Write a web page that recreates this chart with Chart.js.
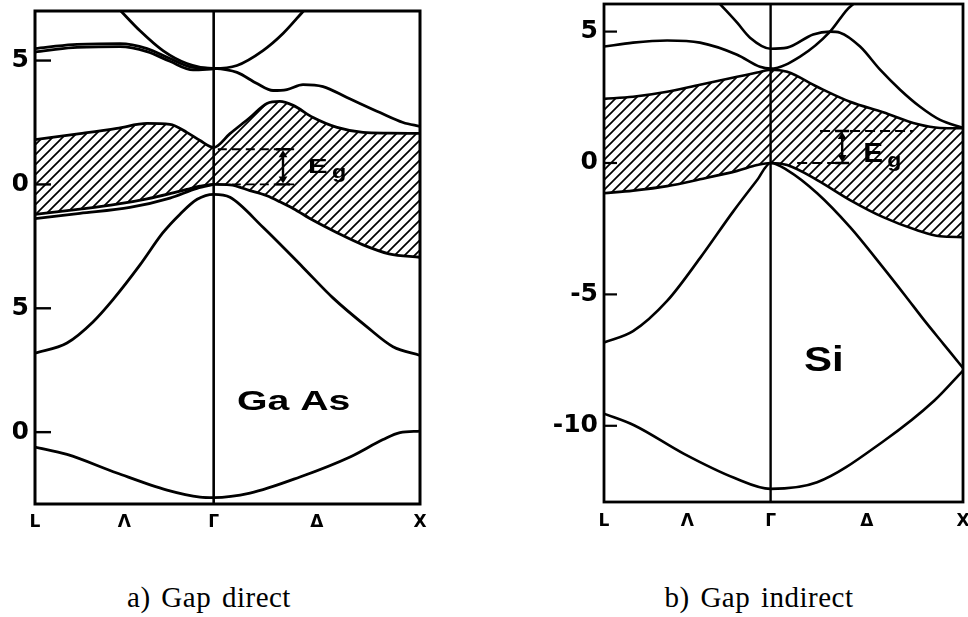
<!DOCTYPE html>
<html>
<head>
<meta charset="utf-8">
<script src="https://cdn.jsdelivr.net/npm/chart.js@4.4.1/dist/chart.umd.min.js"></script>
<style>
  html, body { margin: 0; padding: 0; background: #fff; width: 968px; height: 617px; overflow: hidden; }
  body { position: relative; }
  #wrapA { position: absolute; left: 13px; top: 0; width: 437px; height: 560px; overflow: hidden; }
  #cA { position: absolute; left: -33px; top: 0; }
  #cB { position: absolute; left: 484px; top: 0; }
  .cap { position: absolute; top: 580px; line-height: 34px; font-size: 29px; letter-spacing: 0.5px; word-spacing: 3px;
         font-family: "Liberation Serif", "Times New Roman", serif; color: #000; white-space: nowrap; transform: translateX(-50%); }
</style>
</head>
<body>
<div id="wrapA"><canvas id="cA" width="470" height="560"></canvas></div>
<canvas id="cB" width="484" height="560"></canvas>
<div class="cap" style="left:209px">a) Gap direct</div>
<div class="cap" style="left:759px">b) Gap indirect</div>
<script>
// Wave-vector path L – Γ – X (Γ at 0, L at -√3/2, X at 1)
const kTickPos = [-0.866, -0.433, 0, 0.5, 1];
const kTickNames = ['L', 'Λ', 'Γ', 'Δ', 'X'];
const energyTicks = [-10, -5, 0, 5];

// ---- GaAs bands (energy in eV) ----
const gaUpperK = [-0.45, -0.357, -0.246, -0.13, 0, 0.113, 0.239, 0.336, 0.435];
const gaUpperE = [7.0, 6.2, 5.4, 4.88, 4.68, 4.8, 5.4, 6.09, 7.0];

const gaSecondK = [-0.866, -0.682, -0.454, -0.323, -0.212, -0.1, 0, 0.113, 0.21, 0.288, 0.355, 0.433, 0.53, 0.646, 0.806, 0.918, 1.0];
const gaSecondE = [5.48, 5.64, 5.68, 5.48, 5.08, 4.72, 4.68, 4.52, 4.07, 3.79, 3.83, 4.03, 3.95, 3.51, 2.9, 2.5, 2.34];

const gaSecondBK = [-0.866, -0.682, -0.454, -0.323, -0.212, -0.1, 0];
const gaSecondBE = [5.34, 5.52, 5.56, 5.36, 4.97, 4.62, 4.66];

const gaGapK = [-0.866, -0.648, -0.469, -0.323, -0.212, -0.13, -0.066, 0, 0.079, 0.176, 0.258, 0.321, 0.385, 0.482, 0.598, 0.724, 0.85, 1.0];
const gaCondE = [1.81, 2.05, 2.26, 2.46, 2.42, 2.1, 1.77, 1.49, 2.05, 2.7, 3.27, 3.35, 3.19, 2.7, 2.3, 2.1, 2.07, 2.06];
const gaValE = [-1.21, -1.0, -0.8, -0.58, -0.37, -0.2, -0.07, 0, -0.02, -0.25, -0.46, -0.7, -0.97, -1.45, -1.95, -2.44, -2.8, -2.94];

const gaValBK = [-0.866, -0.648, -0.406, -0.212, -0.081, 0];
const gaValBE = [-1.38, -1.17, -0.93, -0.55, -0.16, 0];

const gaSplitK = [-0.866, -0.711, -0.585, -0.488, -0.357, -0.246, -0.163, -0.08, 0, 0.079, 0.239, 0.433, 0.578, 0.743, 0.869, 1.0];
const gaSplitE = [-6.81, -6.4, -5.55, -4.65, -3.25, -1.95, -1.2, -0.6, -0.4, -0.52, -1.73, -3.35, -4.58, -5.75, -6.55, -6.9];

const gaBottomK = [-0.866, -0.711, -0.469, -0.226, -0.066, 0, 0.176, 0.418, 0.661, 0.821, 0.903, 1.0];
const gaBottomE = [-10.6, -10.9, -11.65, -12.34, -12.62, -12.64, -12.46, -11.81, -11.0, -10.3, -10.02, -9.96];

// ---- Si bands (energy in eV) ----
const siUpperK = [-0.263, -0.174, -0.107, 0, 0.086, 0.221, 0.309, 0.361, 0.465, 0.569, 0.673, 0.777, 0.881, 1.0];
const siUpperE = [6.05, 5.34, 4.77, 4.35, 4.39, 4.89, 5.0, 4.96, 4.43, 3.55, 2.79, 2.14, 1.64, 1.34];

const siSecondK = [-0.866, -0.715, -0.538, -0.367, -0.174, -0.055, 0, 0.153, 0.309, 0.398, 0.43];
const siSecondE = [4.43, 4.58, 4.66, 4.58, 4.12, 3.66, 3.59, 4.05, 5.0, 5.84, 6.05];

const siGapK = [-0.866, -0.715, -0.538, -0.367, -0.174, -0.07, 0, 0.086, 0.242, 0.413, 0.585, 0.762, 0.881, 1.0];
const siCondE = [2.44, 2.52, 2.71, 2.98, 3.28, 3.44, 3.55, 3.47, 2.9, 2.33, 1.93, 1.48, 1.33, 1.32];
const siValE = [-1.15, -1.05, -0.88, -0.62, -0.3, -0.08, 0, -0.08, -0.65, -1.41, -2.06, -2.56, -2.79, -2.82];

const siVal2K = [-0.866, -0.715, -0.538, -0.367, -0.195, -0.07, 0, 0.086, 0.242, 0.413, 0.585, 0.7, 0.8, 0.9, 1.0];
const siVal2E = [-6.83, -6.4, -5.25, -3.62, -1.85, -0.65, 0, -0.27, -1.15, -2.44, -3.98, -5.05, -6.0, -6.9, -7.8];

const siBottomK = [-0.866, -0.71, -0.45, -0.19, 0, 0.242, 0.59, 0.85, 1.0];
const siBottomE = [-9.54, -9.98, -11.07, -11.98, -12.4, -12.15, -10.57, -9.05, -7.9];

// Gap markers (energies of the two edges, k-range of the dashed guides)
const gaEgEdges = [0, 1.42];
const gaEgGuideK = [0.02, 0.39];
const siEgEdges = [0, 1.22];
const siEgGuideTopK = [0.257, 0.741];
const siEgGuideBottomK = [0.138, 0.398];

// ---------------------------------------------------------------
function pts(k, e) { return k.map((v, i) => ({ x: v, y: e[i] })); }

function hatch(spacing, lw) {
  const c = document.createElement('canvas');
  c.width = spacing; c.height = spacing;
  const g = c.getContext('2d');
  g.strokeStyle = '#000';
  g.lineWidth = lw;
  g.beginPath();
  g.moveTo(-2, spacing + 2); g.lineTo(spacing + 2, -2);
  g.moveTo(-2, 2); g.lineTo(2, -2);
  g.moveTo(spacing - 2, spacing + 2); g.lineTo(spacing + 2, spacing - 2);
  g.stroke();
  return g.createPattern(c, 'repeat');
}

function line(k, e, lw, extra) {
  return Object.assign({
    data: pts(k, e),
    borderColor: '#000',
    borderWidth: lw,
    pointRadius: 0,
    fill: false,
    cubicInterpolationMode: 'monotone'
  }, extra || {});
}

function textAt(ctx, s, px, py, font, sx) {
  ctx.save();
  ctx.translate(px, py);
  ctx.scale(sx, 1);
  ctx.font = font;
  ctx.textAlign = 'left';
  ctx.textBaseline = 'alphabetic';
  ctx.fillText(s, 0, 0);
  ctx.restore();
}

// Frame, Γ line, inner energy ticks, gap marker and material name
const bandDecor = {
  id: 'bandDecor',
  afterDatasetsDraw(chart, args, o) {
    const { ctx, chartArea: a, scales: { x, y } } = chart;
    ctx.save();
    ctx.strokeStyle = '#000';
    ctx.fillStyle = '#000';

    const gx = x.getPixelForValue(0);
    ctx.lineWidth = o.gammaWidth;
    ctx.beginPath(); ctx.moveTo(gx, a.top); ctx.lineTo(gx, a.bottom); ctx.stroke();

    ctx.lineWidth = o.frameWidth;
    ctx.strokeRect(a.left, a.top, a.right - a.left, a.bottom - a.top);

    ctx.lineWidth = o.tickWidth;
    y.ticks.forEach(t => {
      const py = y.getPixelForValue(t.value);
      ctx.beginPath(); ctx.moveTo(a.left, py); ctx.lineTo(a.left + o.tickLen, py); ctx.stroke();
    });

    const e = o.eg;
    const yB = y.getPixelForValue(e.edges[0]);
    const yT = y.getPixelForValue(e.edges[1]);
    ctx.lineWidth = e.dashWidth;
    ctx.setLineDash(e.dash);
    ctx.beginPath();
    ctx.moveTo(x.getPixelForValue(e.topK[0]), yT); ctx.lineTo(x.getPixelForValue(e.topK[1]), yT);
    ctx.moveTo(x.getPixelForValue(e.bottomK[0]), yB); ctx.lineTo(x.getPixelForValue(e.bottomK[1]), yB);
    ctx.stroke();
    ctx.setLineDash([]);

    const ax = x.getPixelForValue(e.arrowK);
    const h = e.head;
    ctx.lineWidth = e.arrowWidth;
    ctx.beginPath();
    ctx.moveTo(ax - e.bar, yT); ctx.lineTo(ax + e.bar, yT);
    ctx.moveTo(ax - e.bar, yB); ctx.lineTo(ax + e.bar, yB);
    ctx.moveTo(ax, yT + h * 0.5); ctx.lineTo(ax, yB - h * 0.5);
    ctx.stroke();
    ctx.beginPath(); ctx.moveTo(ax, yT + 1); ctx.lineTo(ax - h * 0.55, yT + h); ctx.lineTo(ax + h * 0.55, yT + h); ctx.closePath(); ctx.fill();
    ctx.beginPath(); ctx.moveTo(ax, yB - 1); ctx.lineTo(ax - h * 0.55, yB - h); ctx.lineTo(ax + h * 0.55, yB - h); ctx.closePath(); ctx.fill();

    textAt(ctx, 'E', x.getPixelForValue(e.eAt[0]), y.getPixelForValue(e.eAt[1]), e.eFont, e.eScale);
    textAt(ctx, 'g', x.getPixelForValue(e.gAt[0]), y.getPixelForValue(e.gAt[1]), e.gFont, e.gScale);

    const m = o.name;
    textAt(ctx, m.text, x.getPixelForValue(m.at[0]), y.getPixelForValue(m.at[1]), m.font, m.scale);
    ctx.restore();
  }
};

function zeroPad(s) { s.paddingLeft = 0; s.paddingRight = 0; s.paddingTop = 0; s.paddingBottom = 0; }

function makeChart(canvas, cfg) {
  const yFont = { family: '"DejaVu Sans", sans-serif', weight: 'bold', size: 25 };
  const xFont = { family: '"DejaVu Sans", sans-serif', weight: 'bold', size: 17 };
  return new Chart(canvas, {
    type: 'line',
    data: { datasets: cfg.datasets },
    plugins: [bandDecor],
    options: {
      responsive: false,
      animation: false,
      devicePixelRatio: 1,
      layout: { padding: cfg.padding },
      plugins: { legend: { display: false }, tooltip: { enabled: false }, bandDecor: cfg.decor },
      scales: {
        x: {
          type: 'linear', min: -0.866, max: 1,
          grid: { display: false, drawTicks: false },
          border: { display: false },
          afterBuildTicks: s => { s.ticks = kTickPos.map(v => ({ value: v })); },
          afterFit: s => { s.height = cfg.xHeight; zeroPad(s); },
          ticks: { autoSkip: false, maxRotation: 0, padding: cfg.xPad, color: '#000', font: xFont,
                   callback: (v, i) => kTickNames[i] }
        },
        y: {
          min: cfg.yMin, max: cfg.yMax,
          grid: { display: false, drawTicks: false },
          border: { display: false },
          afterBuildTicks: s => { s.ticks = energyTicks.map(v => ({ value: v })); },
          afterFit: s => { s.width = cfg.yWidth; zeroPad(s); },
          ticks: { padding: cfg.yPad, color: '#000', font: yFont, callback: v => String(v) }
        }
      }
    }
  });
}

// ---- GaAs: direct gap ----
const gaLW = 2.8;
makeChart(document.getElementById('cA'), {
  padding: { top: 11, right: 30, bottom: 0, left: 0 },
  yWidth: 55, xHeight: 56, xPad: 8, yPad: 6,
  yMin: -12.9, yMax: 7.0,
  datasets: [
    line(gaGapK, gaCondE, gaLW, { fill: '+1', backgroundColor: hatch(10, 1.7) }),
    line(gaGapK, gaValE, gaLW),
    line(gaUpperK, gaUpperE, gaLW),
    line(gaSecondK, gaSecondE, gaLW),
    line(gaSecondBK, gaSecondBE, gaLW),
    line(gaValBK, gaValBE, gaLW),
    line(gaSplitK, gaSplitE, gaLW),
    line(gaBottomK, gaBottomE, gaLW)
  ],
  decor: {
    gammaWidth: 2.6, frameWidth: 3.0, tickWidth: 2.4, tickLen: 16,
    eg: {
      edges: gaEgEdges, topK: gaEgGuideK, bottomK: gaEgGuideK, arrowK: 0.336,
      dash: [9, 5], dashWidth: 1.9, arrowWidth: 2.4, bar: 7, head: 8,
      eAt: [0.457, 0.48], eFont: 'bold 21px "Liberation Sans", Arial, sans-serif', eScale: 1.4,
      gAt: [0.574, 0.24], gFont: 'bold 18px "Liberation Sans", Arial, sans-serif', gScale: 1.3
    },
    name: { text: 'Ga As', at: [0.113, -9.11], font: 'bold 28px "Liberation Sans", Arial, sans-serif', scale: 1.4 }
  }
});

// ---- Si: indirect gap ----
const siLW = 2.6;
makeChart(document.getElementById('cB'), {
  padding: { top: 4, right: 5, bottom: 0, left: 0 },
  yWidth: 120, xHeight: 58, xPad: 9, yPad: 6,
  yMin: -12.9, yMax: 6.05,
  datasets: [
    line(siGapK, siCondE, siLW, { fill: '+1', backgroundColor: hatch(10, 1.7) }),
    line(siGapK, siValE, siLW),
    line(siUpperK, siUpperE, siLW),
    line(siSecondK, siSecondE, siLW),
    line(siVal2K, siVal2E, siLW),
    line(siBottomK, siBottomE, siLW)
  ],
  decor: {
    gammaWidth: 2.4, frameWidth: 2.8, tickWidth: 2.2, tickLen: 13,
    eg: {
      edges: siEgEdges, topK: siEgGuideTopK, bottomK: siEgGuideBottomK, arrowK: 0.372,
      dash: [10, 5], dashWidth: 1.9, arrowWidth: 2.4, bar: 7, head: 8,
      eAt: [0.481, 0.04], eFont: 'bold 27px "Liberation Sans", Arial, sans-serif', eScale: 1.1,
      gAt: [0.606, -0.17], gFont: 'bold 21px "Liberation Sans", Arial, sans-serif', gScale: 1.1
    },
    name: { text: 'Si', at: [0.174, -7.9], font: 'bold 35px "Liberation Sans", Arial, sans-serif', scale: 1.2 }
  }
});
</script>
</body>
</html>
